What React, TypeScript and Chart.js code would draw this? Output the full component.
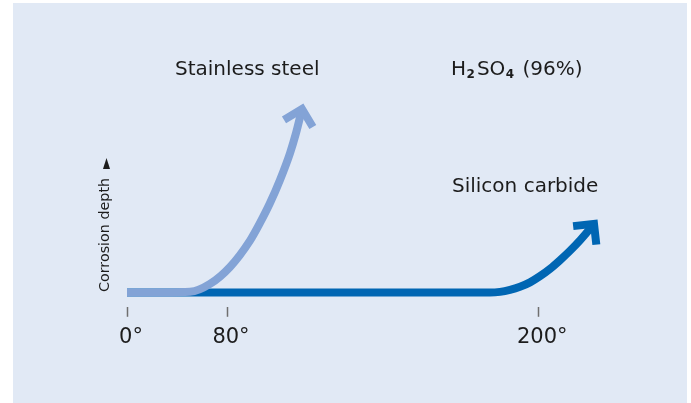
import { useEffect, useRef } from "react";
import { Chart, registerables } from "chart.js";

Chart.register(...registerables);

// ---- data ----
const xTickValues = [0, 80, 329];
const xTickLabels = ["0°", "80°", "200°"];
const seriesNames = ["Stainless steel", "Silicon carbide"];
const steelX = [0, 30.4, 50.4, 66.4, 82.4, 98.4, 106.4, 114.4, 122.4, 130.4, 135.2, 140];
const steelY = [0, 0, 0.36, 4.5, 13.3, 27.0, 36.2, 46.5, 58.5, 72.4, 82.8, 95.3];
const sicX = [0, 290.4, 298.4, 306.4, 314.4, 322.4, 330.4, 338.4, 346.4, 354.4, 362.4, 370.4, 373.6];
const sicY = [0, 0, 0.36, 1.4, 3.0, 5.3, 8.5, 12.3, 16.8, 21.7, 27.1, 33.1, 35.7];
const yAxisTitle = "Corrosion depth";
const mediumParts = ["H", "2", "SO", "4", " (96%)"];

// ---- styles ----
const steelColor = "#83a3d6";
const sicColor = "#0066b3";
const panelColor = "#e1e9f5";
const textColor = "#1c1c1c";
const FONT = "'DejaVu Sans', sans-serif";

const decorPlugin = {
  id: "decor",
  beforeDraw(chart: any) {
    const ctx = chart.ctx;
    ctx.save();
    ctx.fillStyle = "#ffffff";
    ctx.fillRect(0, 0, chart.width, chart.height);
    ctx.fillStyle = panelColor;
    ctx.fillRect(13, 3, 674, 400);
    ctx.restore();
  },
  afterDatasetsDraw(chart: any) {
    const ctx = chart.ctx;
    const L = 21;
    chart.data.datasets.forEach((ds: any, di: number) => {
      const pts = chart.getDatasetMeta(di).data;
      const n = pts.length;
      const p1 = pts[n - 1];
      const p0 = pts[n - 2];
      const dx = p1.x - p0.x;
      const dy = p1.y - p0.y;
      const len = Math.hypot(dx, dy) || 1;
      const bx = -dx / len;
      const by = -dy / len;
      const c = Math.cos(Math.PI / 4);
      const s = Math.sin(Math.PI / 4);
      const w1x = bx * c - by * s;
      const w1y = bx * s + by * c;
      const w2x = bx * c + by * s;
      const w2y = -bx * s + by * c;
      ctx.save();
      ctx.strokeStyle = ds.borderColor;
      ctx.lineWidth = ds.borderWidth;
      ctx.lineJoin = "miter";
      ctx.lineCap = "butt";
      ctx.beginPath();
      ctx.moveTo(p1.x + L * w1x, p1.y + L * w1y);
      ctx.lineTo(p1.x, p1.y);
      ctx.lineTo(p1.x + L * w2x, p1.y + L * w2y);
      ctx.stroke();
      ctx.restore();
    });
  },
  afterDraw(chart: any) {
    const ctx = chart.ctx;
    ctx.save();
    ctx.fillStyle = textColor;
    ctx.textAlign = "left";
    ctx.textBaseline = "alphabetic";
    ctx.font = `20px ${FONT}`;
    ctx.fillText(seriesNames[0], 175, 75);
    ctx.fillText(seriesNames[1], 452, 191.5);

    // H2SO4 (96%)
    let x = 451;
    mediumParts.forEach((p, i) => {
      const sub = i === 1 || i === 3;
      ctx.font = sub ? `bold 12px ${FONT}` : `20px ${FONT}`;
      ctx.fillText(p, x, sub ? 77.5 : 74.5);
      x += ctx.measureText(p).width + (sub ? 2 : 0.5);
    });

    // y axis title with arrow triangle
    ctx.translate(105.5, 292);
    ctx.rotate(-Math.PI / 2);
    ctx.font = `14.3px ${FONT}`;
    ctx.textBaseline = "middle";
    ctx.fillText(yAxisTitle, 0, 0);
    ctx.beginPath();
    ctx.moveTo(123, -2.5);
    ctx.lineTo(123, 4.5);
    ctx.lineTo(134, 1);
    ctx.closePath();
    ctx.fill();
    ctx.restore();
  },
};

export default function App() {
  const ref = useRef<HTMLCanvasElement>(null);
  useEffect(() => {
    const canvas = ref.current!;
    const chart = new Chart(canvas, {
      type: "line",
      data: {
        datasets: [
          {
            label: seriesNames[0],
            data: steelX.map((x, i) => ({ x, y: steelY[i] })),
            borderColor: steelColor,
            borderWidth: 8,
            pointRadius: 0,
            cubicInterpolationMode: "monotone",
            clip: false,
            borderCapStyle: "butt",
          },
          {
            label: seriesNames[1],
            data: sicX.map((x, i) => ({ x, y: sicY[i] })),
            borderColor: sicColor,
            borderWidth: 8,
            pointRadius: 0,
            cubicInterpolationMode: "monotone",
            clip: false,
            borderCapStyle: "butt",
          },
        ],
      } as any,
      options: {
        responsive: false,
        animation: false,
        events: [],
        layout: { padding: { left: 127, right: 64, top: 100, bottom: 45 } },
        plugins: { legend: { display: false }, tooltip: { enabled: false } },
        scales: {
          x: {
            type: "linear",
            min: 0,
            max: 400,
            afterBuildTicks: (axis: any) => {
              axis.ticks = xTickValues.map((v) => ({ value: v }));
            },
            grid: {
              display: true,
              drawOnChartArea: false,
              drawTicks: true,
              tickLength: 10,
              tickColor: "#6f6f6f",
              tickWidth: 1.5,
            },
            border: { display: false },
            ticks: {
              callback: (_v: any, i: number) => xTickLabels[i],
              font: { family: FONT, size: 21 },
              color: textColor,
              padding: 8,
              labelOffset: 4,
              autoSkip: false,
              maxRotation: 0,
            },
          },
          y: { display: false, min: -7.4, max: 100 },
        },
      } as any,
      plugins: [decorPlugin],
    });
    return () => chart.destroy();
  }, []);
  return (
    <div style={{ position: "fixed", left: 0, top: 0, width: 691, height: 403, background: "#fff" }}>
      <canvas ref={ref} width={691} height={403} style={{ display: "block", width: 691, height: 403 }} />
    </div>
  );
}
